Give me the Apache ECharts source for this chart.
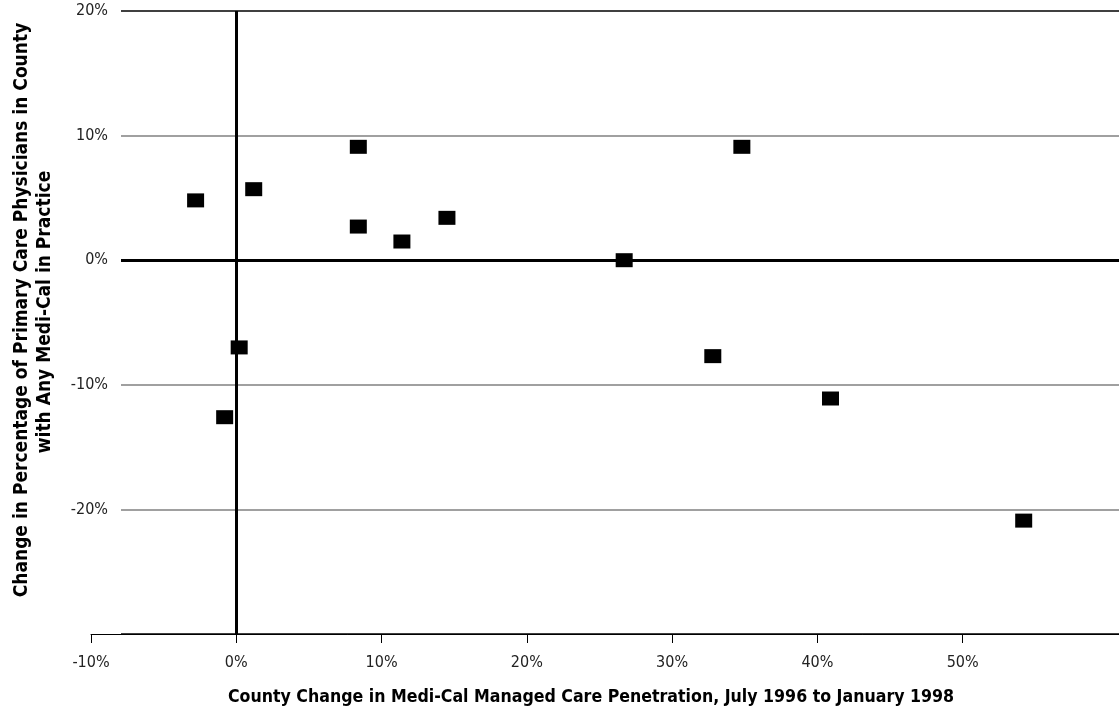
<!DOCTYPE html>
<html>
<head>
<meta charset="utf-8">
<title>Medi-Cal managed care penetration vs physicians</title>
<script src="https://cdn.jsdelivr.net/npm/echarts@6/dist/echarts.min.js"></script>
<style>
  html, body { margin: 0; padding: 0; background: #fff; }
  #chart { width: 1119px; height: 716px; }
</style>
</head>
<body>
<div id="chart"></div>
<script>
// change in managed care penetration (x, %) and change in share of physicians (y, %)
const penetrationChange = [-2.8, 1.2, 8.4, 8.4, 11.4, 14.5, 26.7, 34.8, 0.2, -0.8, 32.8, 40.9, 54.2];
const physicianChange = [4.8, 5.7, 9.1, 2.7, 1.5, 3.4, 0.0, 9.1, -7.0, -12.6, -7.7, -11.1, -20.9];
const xTicks = [-10, 0, 10, 20, 30, 40, 50];
const yTicks = [-30, -20, -10, 0, 10, 20];

const FONT = "'Liberation Sans Narrow', 'Arial Narrow', 'DejaVu Sans Condensed', sans-serif";

const points = penetrationChange.map((x, i) => [x, physicianChange[i]]);

const option = {
  animation: false,
  backgroundColor: '#fff',
  textStyle: { fontFamily: FONT },
  grid: [
    { left: 91, right: 0, top: 11, bottom: 82 },   // scatter + x axis
    { left: 121, right: 0, top: 11, bottom: 82 }   // y axis labels + horizontal lines
  ],
  xAxis: [
    {
      gridIndex: 0,
      type: 'value',
      min: -10,
      max: 60.76,
      interval: 10,
      splitLine: { show: false },
      axisLine: { onZero: false, lineStyle: { color: '#000', width: 1 } },
      axisTick: { length: 9, customValues: xTicks, lineStyle: { color: '#000' } },
      axisLabel: {
        customValues: xTicks,
        formatter: '{value}%',
        color: '#222',
        fontSize: 16,
        fontFamily: FONT,
        margin: 21
      }
    },
    { gridIndex: 1, type: 'value', min: 0, max: 1, show: false }
  ],
  yAxis: [
    { gridIndex: 0, type: 'value', min: -30, max: 20, show: false },
    {
      gridIndex: 1,
      type: 'value',
      min: -30,
      max: 20,
      interval: 10,
      axisLine: { show: false },
      axisTick: { show: false },
      axisLabel: {
        customValues: yTicks.slice(1),
        formatter: '{value}%',
        color: '#222',
        fontSize: 16,
        fontFamily: FONT,
        margin: 13
      },
      splitLine: {
        lineStyle: {
          color: ['#000', '#808080', '#808080', '#000', '#808080', '#000'],
          width: 1.5
        }
      }
    }
  ],
  series: [
    {
      type: 'scatter',
      xAxisIndex: 1,
      yAxisIndex: 1,
      data: [],
      markLine: {
        silent: true,
        symbol: 'none',
        label: { show: false },
        lineStyle: { color: '#000', width: 3, type: 'solid' },
        data: [{ yAxis: 0 }]
      }
    },
    {
      type: 'scatter',
      xAxisIndex: 0,
      yAxisIndex: 0,
      symbol: 'rect',
      symbolSize: [17, 14],
      itemStyle: { color: '#000', opacity: 1 },
      data: points,
      markLine: {
        silent: true,
        symbol: 'none',
        label: { show: false },
        lineStyle: { color: '#000', width: 3, type: 'solid' },
        data: [{ xAxis: 0 }]
      },
      z: 5
    }
  ],
  graphic: [
    {
      type: 'text',
      x: 22, y: 310,
      rotation: Math.PI / 2,
      style: {
        text: 'Change in Percentage of Primary Care Physicians in County',
        font: 'bold 19px ' + FONT,
        fill: '#000',
        align: 'center',
        verticalAlign: 'middle'
      }
    },
    {
      type: 'text',
      x: 45, y: 312,
      rotation: Math.PI / 2,
      style: {
        text: 'with Any Medi-Cal in Practice',
        font: 'bold 19px ' + FONT,
        fill: '#000',
        align: 'center',
        verticalAlign: 'middle'
      }
    },
    {
      type: 'text',
      x: 591, y: 697,
      style: {
        text: 'County Change in Medi-Cal Managed Care Penetration, July 1996 to January 1998',
        font: 'bold 17.6px ' + FONT,
        fill: '#000',
        align: 'center',
        verticalAlign: 'middle'
      }
    }
  ]
};

const chart = echarts.init(document.getElementById('chart'));
chart.setOption(option);
</script>
</body>
</html>
